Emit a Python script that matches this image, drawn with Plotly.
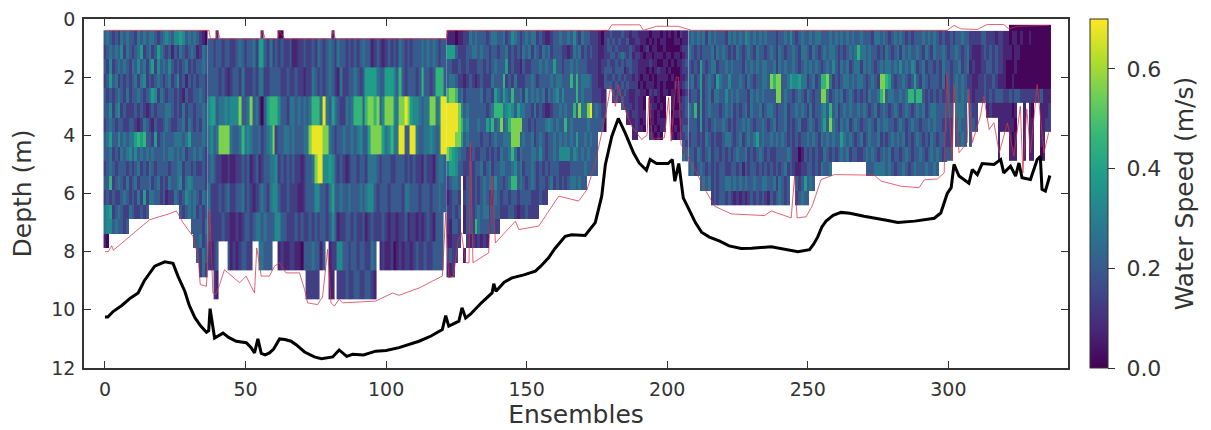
import plotly.graph_objects as go

# speed in m/s for each digit used in the section rows below
SPEED_LEVELS = [0.01, 0.07, 0.13, 0.20, 0.27, 0.33, 0.39, 0.46, 0.56, 0.68]

# ---- water speed, one digit per ensemble ("." = no data) ----
# ensembles 0-36, 0.5 m cells from 0.39 m
sec_a = [
 "3432324343 3243434432 3454355653 4343210",
 "2343435243 2346234236 4323132432 3431243",
 "3252343432 4353424625 3435323234 2323343",
 "2363423232 3424523234 3234235231 3232332",
 "3232343242 3343234652 4323323213 2233432",
 "3352452322 2323212323 3344323242 3323343",
 "2343233223 3212432132 2343223342 4323243",
 "3463353434 4676733262 3433344434 6333343",
 "3342324345 3534343433 3434434342 3343432",
 "2343233323 2342324323 3332334423 3232232",
 "3372343242 3423334234 2324334524 5433332",
 "2323223432 3242624433 2312243235 4343243",
 "4562343224 322323.... .......323 4342323",
 "455343323. .......... .......... .333324",
 "10........ .......... .......... ..33423",
 ".......... .......... .......... ...3243",
 ".......... .......... .......... ....242",
]
# ensembles 37-121, thin top cell then 1 m cells from 0.65 m
sec_b_top = ["... 1......... ......1... ..00...... .......... .1"]
sec_b = [
 "332 3323322343 2334266324 2323223112 2322324323 4324332323 2343312321 2323243232 3334343432 33",
 "333 3232123324 2223244223 3332232232 2122432323 4321422334 3236666433 6665373233 3237332377 73",
 "566 3445455583 3483420367 7753324434 3434777494 3643224347 7737887835 8885488986 5543448845 99",
 "453 4888843347 4543342345 8233443433 3448999988 4323343343 4533688886 4574499339 9433445434 99",
 "343 2211211223 2312312334 4523232322 1233489955 6532321233 2332444323 3322333232 3221322134 43",
 "422 2323422334 2321234324 5532232221 1233355332 4633433433 3434553233 3233332443 3323332334 33",
 "322 2232211212 3323443433 3553322232 3223232332 3531223323 2231232223 2122122312 2121232133 3.",
 "212 3...312123 322..44333 ..12112211 0333433 13. 1225533233 2332243.12 1120121221 2322322333 3.",
 "..2 1......... .......... .......... ..22222... 11.2223223 3223321... ",
]
# ensembles 122-178, 0.5 m cells from 0.39 m
sec_c = [
 "11101122 4343332344 3342354323 4344232112 3343343532 433222100",
 "66632223 3443433233 2334232324 3424324342 3332212434 232322111",
 "33223223 2223323234 3336232213 2233343433 6332334343 332222122",
 "34432212 3212322243 3372324222 3343233334 3443337373 444322111",
 "78873423 3333423326 4364373342 5343434243 4535333373 433322211",
 "99998534 3333332347 7745653644 3324232112 3343433738 448934322",
 "99998745 3334336473 4834788883 3232333454 3433734333 334333330",
 "99988634 3333233234 3344488834 3342343233 4343434363 343433...",
 "87654332 2322332323 2433474243 3344353233 4355553543 434333...",
 "46653322 3233423423 3443345342 3343232323 3322223333 343333...",
 "23443.13 3232343435 3323477343 2343233234 2323234434 33.......",
 "12332.23 3232343224 3233233233 33222322.. .......... .........",
 "22323.13 3234344233 3222332122 32222..... .......... .........",
 "21332.13 3274333232 2......... .......... .......... .........",
 "11222..2 1212121... .......... .......... .......... .........",
 "2322..1. .......... ",
 "112..... ",
]
# ensembles 178-207, 0.25 m cells from 0.39 m
sec_d = [
 "22 3222322122 1111011101 01010211",
 "23 2323223112 2110101011 00011011",
 "23 3232222321 1012011001 00000122",
 "22 3323432312 2101101110 11011012",
 "23 2232323322 1111211001 10101123",
 "33 3233312322 1110101211 01000122",
 "32 2323232212 1011010111 10100112",
 "33 3232323222 0101110101 00011123",
 ".. .323232112 2110212101 10101012",
 ".. .232322112 110.110100 ..101123",
 ".. ....322212 110.211010 ..100223",
 ".. ......2122 111.110100 ..011123",
 ".. ......1112 101.010111 ..100222",
 ".. ........12 110.101011 ..010133",
 ".. ........11 ....21010. ..101223",
 ".. .......... .......... ......32",
 ".. .......... .......... ......33",
 ".. .......... .......... ......43",
]
# ensembles 208-299, 0.5 m cells from 0.39 m
sec_e = [
 "34 3434243433 3243434354 3434343332 3343532343 3434433343 4343434334 3332443432 3434323233 3434343232",
 "43 2323334243 4323243234 3243323432 4323343244 3243234344 3232343474 4343323243 2342434334 3243243343",
 "32 3263234423 3434333243 4343443342 4343343234 3434323435 3243423442 4343234344 3435343542 3423323243",
 "34 2362343264 3353334324 3233443878 8334655644 2342377842 3234434344 3234328876 3233432363 2432333241",
 "23 3262342443 3534343332 4343433338 8343323432 4323388423 4342343232 3243347834 4334347747 7323232322",
 "43 7262343332 3434232342 4334234432 3342334343 2423345373 4234343343 4323423432 3432343234 3423443333",
 "33 3262323433 4323233434 3233432342 3342323422 3432346384 3243423432 3343243443 3234323433 2334343323",
 "23 3232432322 3443234234 3463433434 3432323233 4343243434 3364343234 2343342323 4343423234 3232432332",
 "33 2432342332 3232343342 3234323223 3334322013 2323224323 2343423322 3434323434 2332343233 4323434323",
 "34 2343232323 3223323132 3323232323 2342321122 3323243 34. .......... .333444434 3233432343 3343343...",
 ".. ..34342323 3443434343 3433443342 4323..3236 343....... ",
 ".. ......2323 3232121212 3232321323 4323..2343 3......... ",
]
# ensembles 300-336, thin top cell then 0.5 m cells from 0.39 m
sec_f_top = [".......... .......... ..00000000 0000000"]
sec_f = [
 "2323343322 2233222122 1101101001 0000000",
 "2334323421 1123232322 1110110000 0000000",
 "3233423412 1122332322 1000100000 0000000",
 "3234343221 1223223211 1001000000 0000000",
 "3234343421 2223232333 2232332222 2223111",
 "33.4443.32 2...121111 11101..1.1 0..1112",
 "22.3433.33 2.......11 11110..1.1 1..1122",
 "22.3343.3. ........1. ..101..1.1 1..11..",
 "33........ ........1. ..111..1.1 1..01..",
]

# ---- cell layout of each section: first ensemble, column count, cell edges ----
edges_a = [0.39 + 0.5 * k for k in range(18)]
edges_b = [0.39, 0.65] + [1.65 + k for k in range(9)]
edges_c = [0.39 + 0.5 * k for k in range(18)]
edges_d = [0.39 + 0.25 * k for k in range(19)]
edges_e = [0.39 + 0.5 * k for k in range(13)]
edges_f = [0.2, 0.39] + [0.89 + 0.5 * k for k in range(9)]

sections = [
    (0, 37, edges_a, sec_a),
    (37, 85, edges_b, sec_b_top + sec_b),
    (122, 57, edges_c, sec_c),
    (178, 30, edges_d, sec_d),
    (208, 92, edges_e, sec_e),
    (300, 37, edges_f, sec_f_top + sec_f),
]

# ---- lines: (ensemble, depth) ----
bottom_pts = [
 (0, 10.25), (1, 10.25), (3, 10.05), (6, 9.85), (9, 9.6), (11.8, 9.42), (14, 9.0), (17.7, 8.5), (21.3, 8.35),
 (24.2, 8.4), (26, 8.85), (28.4, 9.36), (30, 9.85), (32, 10.27), (34, 10.55), (36.1, 10.77), (36.9, 10.72),
 (37.4, 9.96), (39, 10.97), (42, 10.8), (44, 10.95), (46.7, 11.08), (50.3, 11.13), (52, 11.3), (53.2, 11.48),
 (54.4, 11.0), (55.6, 11.5), (57, 11.55), (58.5, 11.48), (60, 11.35), (62.1, 11.0), (64, 11.02), (66.2, 11.08),
 (68, 11.2), (71, 11.45), (74.5, 11.62), (77, 11.68), (81, 11.62), (83.3, 11.38), (86, 11.6), (88.1, 11.53),
 (92, 11.55), (96.3, 11.42), (100, 11.4), (104.6, 11.3), (108, 11.2), (111.7, 11.08), (116, 10.9), (120, 10.68),
 (121.2, 10.2), (122.3, 10.56), (125.9, 10.39), (127, 9.93), (128.3, 10.28), (130, 10.15), (134, 9.75),
 (137.7, 9.42), (138.3, 9.1), (139.1, 9.36), (142, 9.05), (144.8, 8.9), (149, 8.8), (153.1, 8.67), (155, 8.5),
 (157.8, 8.21), (160, 7.9), (163.7, 7.47), (166, 7.42), (170.8, 7.44), (174.4, 7.0), (176.7, 6.09), (178, 5.0),
 (180.3, 4.03), (182.6, 3.42), (185, 3.91), (188, 4.6), (190, 4.95), (192.6, 5.2), (193.9, 4.83), (196.2, 4.97),
 (200.3, 4.97), (201.8, 4.83), (202.7, 5.58), (204.1, 4.97), (205.7, 6.15), (208.6, 6.72), (210, 7.0),
 (212.2, 7.33), (215, 7.5), (218.7, 7.64), (222, 7.8), (226.3, 7.89), (230, 7.88), (237, 7.83), (242, 7.93),
 (246.5, 8.0), (250.6, 7.93), (252, 7.75), (253.5, 7.5), (255, 7.15), (256.5, 6.95), (259, 6.75), (261.8, 6.65),
 (265, 6.68), (270, 6.78), (274.8, 6.85), (278, 6.92), (282, 7.0), (288, 6.95), (295, 6.85), (297.3, 6.67),
 (299.6, 6.0), (301, 5.8), (302, 5.0), (303.8, 5.4), (307.3, 5.65), (308.5, 5.18), (310.3, 5.35), (312, 4.97),
 (316.2, 5.0), (318.6, 4.83), (319.7, 5.29), (322.1, 5.06), (323.9, 5.4), (325.1, 4.95), (326.2, 5.46),
 (329.2, 5.52), (331.6, 4.83), (332.7, 4.72), (333.3, 5.86), (334.5, 5.92), (336.1, 5.38),
]
range_x = [0, 1.2, 2.4, 3, 8.9, 15.9, 23.1, 25.4, 27.8, 31.3, 33.1, 33.9, 36.1, 37.3, 38.4, 39.4, 40.8, 42.5, 47.9,
           50.2, 53.2, 54, 55.6, 58.5, 60.3, 62.1, 64.4, 69.2, 71, 72.1, 75.6, 77.4, 79.2, 80.4, 81.6, 83.3, 84.5,
           96.3, 102.3, 104.6, 111.7, 120, 121.2, 122.3, 124, 125.6, 126.8, 128.3, 129.5, 130, 130.9, 136.5, 137.7,
           138.9, 146, 147.2, 154.3, 161.4, 168.5, 171.5, 174.4, 178, 179.9, 181.6, 182.6, 184.5, 187.4, 190.9,
           192.8, 193.5, 194.7, 199, 200.5, 201.4, 203.2, 204, 204.9, 209.8, 213.4, 216.9, 222.8, 234.6, 237, 240.5,
           244.1, 245.3, 246.2, 249.4, 251.7, 254.7, 259.5, 273.7, 276, 283.1, 289.6, 291.4, 296.1, 298.5, 299.4,
           301.4, 302, 303.8, 306.7, 307.3, 308.5, 311.4, 312.6, 314.5, 316.2, 318.1, 321, 323.3, 325.6, 326.5,
           327.9, 329.2, 331.6, 334, 335.7]
range_y = [8.0, 8.0, 7.8, 7.95, 7.47, 6.9, 6.69, 6.6, 7.01, 7.47, 8.15, 9.13, 9.19, 6.55, 9.42, 9.47, 9.13, 8.62,
           9.07, 8.84, 9.42, 7.87, 8.84, 8.84, 8.5, 8.38, 8.73, 8.73, 9.3, 9.76, 9.82, 9.56, 7.92, 9.76, 9.87, 9.64,
           9.76, 9.7, 9.42, 9.5, 9.25, 8.84, 6.67, 8.9, 8.84, 7.64, 7.35, 8.38, 8.38, 4.25, 8.38, 8.04, 5.4, 7.7,
           6.95, 7.24, 7.12, 6.09, 6.26, 5.86, 4.94, 3.34, 2.31, 3.0, 2.25, 3.0, 3.7, 4.14, 4.0, 2.7, 4.14, 4.08,
           2.7, 4.2, 2.0, 2.0, 4.31, 5.17, 5.86, 6.44, 6.7, 6.76, 6.6, 6.72, 6.84, 5.4, 6.84, 6.8, 6.4, 5.52, 5.35,
           5.37, 5.57, 5.75, 5.8, 5.53, 5.5, 5.29, 1.85, 4.83, 2.25, 4.6, 4.25, 2.42, 4.25, 3.34, 2.65, 3.8, 3.57,
           4.6, 3.57, 4.72, 3.0, 5.29, 3.1, 4.6, 2.25, 4.6, 3.9]

first_x = [0, 37, 37.5, 39.5, 40, 41, 55.5, 56, 57, 61.5, 62, 64, 80.5, 81, 82, 121.5, 122, 179, 180.3, 190.3, 191.5,
           196.2, 203.9, 208.6, 299.6, 302, 304.4, 310.3, 313.8, 319.7, 321.5, 324.5, 335.7]
first_y = [0.39, 0.39, 0.68, 0.68, 0.39, 0.68, 0.68, 0.39, 0.68, 0.68, 0.39, 0.68, 0.68, 0.39, 0.68, 0.68, 0.39, 0.39,
           0.2, 0.2, 0.39, 0.25, 0.25, 0.39, 0.39, 0.22, 0.34, 0.36, 0.19, 0.19, 0.34, 0.25, 0.22]

x_ticks = [0, 50, 100, 150, 200, 250, 300]
y_ticks = [0, 2, 4, 6, 8, 10, 12]
cbar_ticks = [0.0, 0.2, 0.4, 0.6]
cbar_labels = ["\u00a00.0\u00a0", "\u00a00.2\u00a0", "\u00a00.4\u00a0", "\u00a00.6\u00a0"]


def decode(rows, width):
    out = []
    for row in rows:
        chars = row.replace(" ", "")[:width].ljust(width, ".")
        out.append([None if c == "." else SPEED_LEVELS[int(c)] for c in chars])
    return out


fig = go.Figure()
for first, width, edges, rows in sections:
    z = decode(rows, width)
    fig.add_trace(go.Heatmap(
        z=z, x0=first, dx=1, y=edges[:len(z) + 1],
        coloraxis="coloraxis", hoverongaps=False, showlegend=False))

LINE_RED = "rgba(214,50,70,0.75)"
fig.add_trace(go.Scatter(x=first_x, y=first_y, mode="lines", showlegend=False,
                         line=dict(color=LINE_RED, width=1)))
fig.add_trace(go.Scatter(x=range_x, y=range_y, mode="lines", showlegend=False,
                         line=dict(color=LINE_RED, width=1)))
fig.add_trace(go.Scatter(x=[p[0] for p in bottom_pts], y=[p[1] for p in bottom_pts], mode="lines", showlegend=False,
                         line=dict(color="black", width=3)))

FRAME = "#333333"
axis_common = dict(showgrid=False, zeroline=False, showline=True, mirror="ticks", linecolor=FRAME,
                   linewidth=1.5, ticks="inside", ticklen=7, tickwidth=1, tickcolor=FRAME,
                   tickfont=dict(size=19, color="#333333"), automargin=False, ticklabelstandoff=3,
                   ticklabeloverflow="allow")
# the page adds an 8 px body margin, so the figure is 8 px smaller than the window on each far side
fig.update_layout(
    width=1203, height=422, autosize=False,
    margin=dict(l=76, r=140, t=11, b=62),
    paper_bgcolor="white", plot_bgcolor="white",
    font=dict(family="DejaVu Sans", color="#333333"),
    xaxis=dict(range=[-7.45, 342.55], tickvals=x_ticks,
               title=dict(text="Ensembles", font=dict(size=25), standoff=6), **axis_common),
    yaxis=dict(range=[12, 0], tickvals=y_ticks,
               title=dict(text="Depth (m)", font=dict(size=25), standoff=14), **axis_common),
    coloraxis=dict(
        colorscale="Viridis", cmin=0, cmax=0.7,
        colorbar=dict(
            x=1.0223, xanchor="left", xpad=0, y=0, yanchor="bottom", ypad=0, len=1, lenmode="fraction",
            thickness=18, thicknessmode="pixels", outlinewidth=1, outlinecolor=FRAME,
            tickvals=cbar_ticks, ticktext=cbar_labels, ticks="outside", ticklen=7,
            tickcolor=FRAME, tickfont=dict(size=22, color="#333333"),
            title=dict(text="Water Speed (m/s)", side="right", font=dict(size=25, color="#333333")),
        ),
    ),
)
fig.write_html("out.html")
